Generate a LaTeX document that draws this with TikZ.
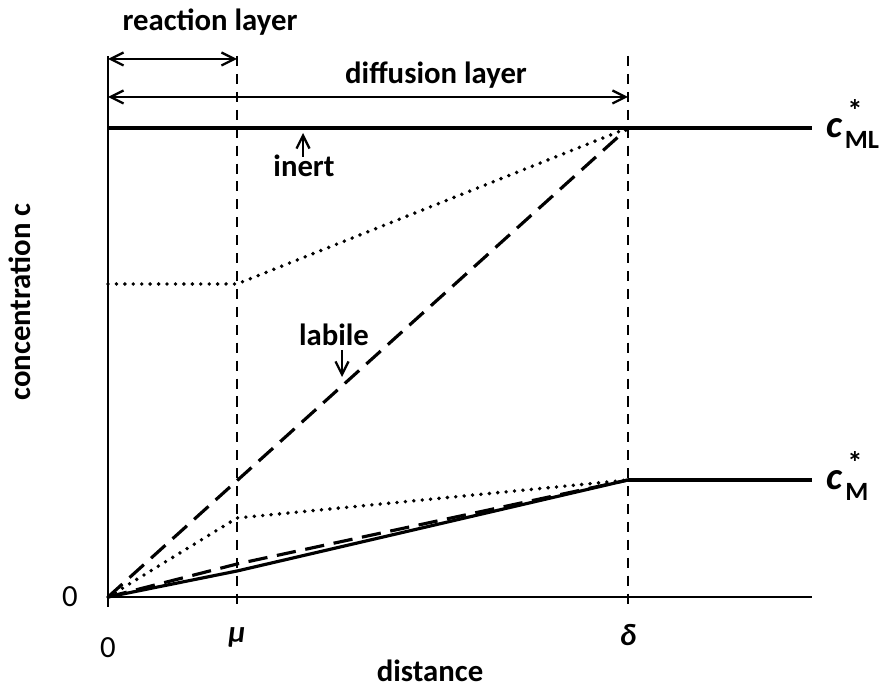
\documentclass[tikz,border=0pt]{standalone}
\usepackage{fontspec}
\setmainfont{Carlito}
\usetikzlibrary{arrows.meta, positioning, calc}

\begin{document}
\begin{tikzpicture}[x=0.02cm, y=-0.02cm, >={Straight Barb[length=2.6mm,width=2.6mm]},
  lbl/.style={font=\bfseries\fontsize{17.5}{20}\selectfont, inner sep=0pt},
  num/.style={font=\fontsize{17.5}{20}\selectfont, inner sep=0pt},
  cbig/.style={font=\bfseries\itshape\fontsize{22}{24}\selectfont, inner sep=0pt},
  csub/.style={font=\bfseries\fontsize{15}{17}\selectfont, inner sep=0pt},
  axis/.style={line width=1.4pt},
  guide/.style={line width=1.2pt, dash pattern=on 5.7pt off 4.5pt},
  longdash/.style={line width=1.8pt, dash pattern=on 11pt off 5.5pt},
  dots/.style={line width=2.2pt, dash pattern=on 0pt off 4.8pt, line cap=round}]
\useasboundingbox (0,0) rectangle (887,689);
% Achsen und Stützpunkte
\coordinate (O) at (108,597);
\coordinate (top) at (108,56);
\coordinate (xend) at (812,597);
\coordinate (mutop) at (237,56);
\coordinate (mubot) at (237,607);
\coordinate (deltatop) at (628,56);
\coordinate (deltabot) at (628,607);
\draw[axis] (O) -- (top);
\draw[axis] ($(O)+(0,10)$) -- (O) -- (xend);
\draw[guide] (mutop) -- (mubot);
\draw[guide] (deltatop) -- (deltabot);
% Grenzwerte
\coordinate (ML0) at (108,128);
\coordinate (MLd) at (628,128);
\coordinate (MLend) at (812,128);
\coordinate (Md) at (628,480);
\coordinate (Mend) at (812,480);
\draw[line width=2.4pt] (ML0) -- (MLend);
\draw[line width=1.8pt] (Md) -- (Mend);
\node[cbig] (cML) at (834,128) {c};
\node[lbl] (cMLstar) at (855,111) {*};
\node[csub] (cMLsub) at (862,140) {ML};
\node[cbig] (cM) at (834,480) {c};
\node[lbl] (cMstar) at (855,463) {*};
\node[csub] (cMsub) at (857,492) {M};
% Profile
\coordinate (pu) at (108,284);
\coordinate (pumu) at (237,284);
\draw[dots] (pu) -- (pumu) -- (MLd);
\draw[longdash] (O) -- (MLd);
\coordinate (plmu) at (237,518);
\draw[dots] (O) -- (plmu) -- (Md);
\coordinate (pdmu) at (237,564);
\draw[longdash] (O) -- (pdmu) -- (Md);
\coordinate (psmu) at (237,571);
\draw[line width=1.8pt] (O) -- (psmu) -- (Md);
% Schichten
\draw[<->, line width=1.3pt] (108,59) -- (237,59);
\draw[<->, line width=1.3pt] (108,97) -- (628,97);
\node[lbl] (react) at (210,22) {reaction layer};
\node[lbl] (diff) at (436,75) {diffusion layer};
% Beschriftungen
\node[lbl] (inert) at (304,166) {inert};
\draw[->, line width=1.3pt] (303,157) -- (303,133);
\node[lbl] (labile) at (334,335) {labile};
\draw[->, line width=1.3pt] (342,350) -- (342,377);
\node[lbl, rotate=90] (conc) at (20,302) {concentration c};
\node[num] (zeroy) at (70,597) {0};
\node[num] (zerox) at (108,648) {0};
\node[lbl] (mulbl) at (237,637) {\textit{μ}};
\node[lbl] (dlbl) at (628,635) {\textit{δ}};
\node[lbl] (dist) at (430,671) {distance};
\end{tikzpicture}
\end{document}
